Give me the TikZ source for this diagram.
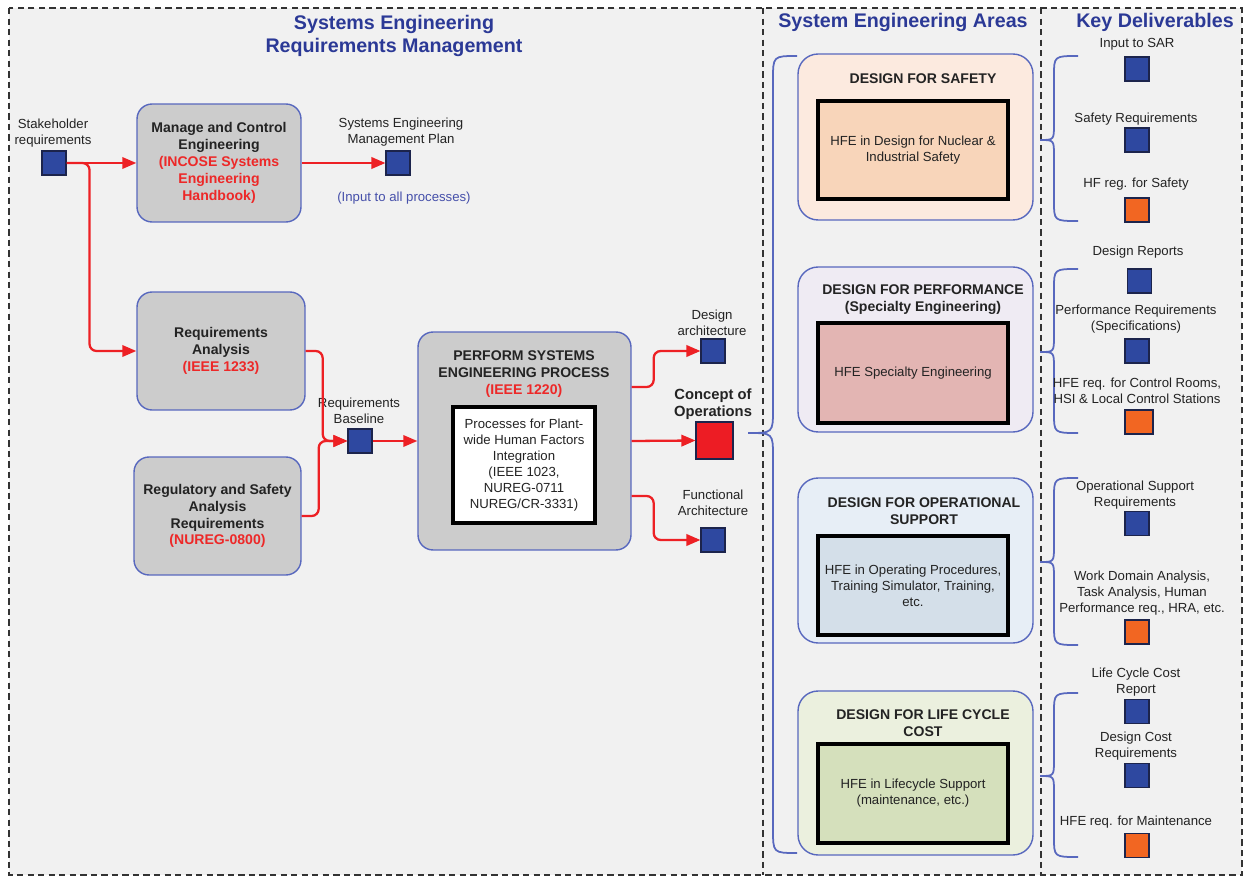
\documentclass[tikz,border=0pt]{standalone}
\usepackage{fontspec}
\setmainfont{Liberation Sans}
\usetikzlibrary{arrows.meta,calc}

\definecolor{panel}{RGB}{241,241,241}
\definecolor{titleblue}{RGB}{43,57,150}
\definecolor{boxblue}{RGB}{88,104,190}
\definecolor{boxgray}{RGB}{204,204,204}
\definecolor{redtxt}{RGB}{237,40,40}
\definecolor{linered}{RGB}{237,32,36}
\definecolor{sqblue}{RGB}{46,72,160}
\definecolor{sqedge}{RGB}{28,36,76}
\definecolor{sqorange}{RGB}{242,102,34}
\definecolor{sqred}{RGB}{237,28,36}
\definecolor{txt}{RGB}{35,35,35}
\definecolor{noteblue}{RGB}{70,80,170}
\definecolor{safetyfill}{RGB}{252,234,223}
\definecolor{safetyin}{RGB}{248,213,186}
\definecolor{perffill}{RGB}{239,235,243}
\definecolor{perfin}{RGB}{227,181,179}
\definecolor{opfill}{RGB}{231,238,246}
\definecolor{opin}{RGB}{212,223,233}
\definecolor{lifefill}{RGB}{235,240,222}
\definecolor{lifein}{RGB}{213,224,188}

\begin{document}
\begin{tikzpicture}[x=0.02cm,y=-0.02cm,
  frame/.style={draw=black!80, line width=0.6pt, dash pattern=on 3.6pt off 2.4pt},
  htitle/.style={font=\bfseries\fontsize{11.2}{13.6}\selectfont, text=titleblue, align=center, inner sep=0},
  lbl/.style={font=\fontsize{7.5}{9.1}\selectfont, text=txt, align=center, inner sep=0},
  blbl/.style={font=\bfseries\fontsize{8.4}{9.6}\selectfont, text=txt, align=center, inner sep=0},
  sq/.style={draw=sqedge, fill=sqblue, minimum size=0.48cm, inner sep=0, line width=0.6pt},
  osq/.style={sq, fill=sqorange},
  proc/.style={draw=boxblue, fill=boxgray, rounded corners=0.3cm, line width=0.8pt,
    align=center, text=txt, font=\bfseries\fontsize{8}{9.6}\selectfont, inner sep=0},
  area/.style={draw=boxblue, rounded corners=0.4cm, line width=0.8pt, minimum width=4.7cm, inner sep=0},
  atitle/.style={font=\bfseries\fontsize{8}{9.6}\selectfont, text=txt, align=center, inner sep=0},
  inbox/.style={draw=black, line width=1.8pt, align=center, text=txt,
    font=\fontsize{7.5}{9.1}\selectfont, minimum width=3.8cm, inner sep=0},
  conn/.style={draw=linered, line width=1.3pt, rounded corners=4pt,
    -{Triangle[length=8pt,width=6.5pt]}},
  brace/.style={draw=boxblue, line width=1pt}]

\useasboundingbox (0,0) rectangle (1244,878);
\fill[white] (0,0) rectangle (1244,878);
\fill[panel] (9,8) rectangle (1242,875);
\draw[frame] (9,8) rectangle (1242,875);
\draw[frame] (763,8) -- (763,875);
\draw[frame] (1041,8) -- (1041,875);

% column headings
\node[htitle] (t1) at (394,36) {Systems Engineering\\Requirements Management};
\node[htitle] (t2) at (903,22) {System Engineering Areas};
\node[htitle] (t3) at (1155,22) {Key Deliverables};

% requirements management
\node[lbl] (shl) at (53,133) {Stakeholder\\requirements};
\node[sq] (sh) at (54,163) {};

\node[proc, minimum width=3.28cm, minimum height=2.36cm] (mc) at (219,163)
  {Manage and Control\\Engineering\\\textcolor{redtxt}{(INCOSE Systems}\\\textcolor{redtxt}{Engineering}\\\textcolor{redtxt}{Handbook)}};

\node[lbl] (sempl) at (401,132) {Systems Engineering\\Management Plan};
\node[sq] (semp) at (398,163) {};
\node[lbl, text=noteblue] (note) at (404,198) {(Input to all processes)};

\node[proc, minimum width=3.36cm, minimum height=2.36cm] (ra) at (221,351)
  {Requirements\\Analysis\\\textcolor{redtxt}{(IEEE 1233)}};

\node[proc, minimum width=3.34cm, minimum height=2.36cm] (rs) at (217.5,516)
  {Regulatory and Safety\\Analysis\\Requirements\\\textcolor{redtxt}{(NUREG-0800)}};

\node[lbl] (rbl) at (359,411) {Requirements\\Baseline};
\node[sq] (rb) at (360,441) {};

\node[proc, minimum width=4.26cm, minimum height=4.36cm] (pp) at (524.5,441) {};
\node[atitle] (ppt) at (524,374) {PERFORM SYSTEMS\\ENGINEERING PROCESS\\\textcolor{redtxt}{(IEEE 1220)}};
\node[inbox, fill=white, minimum width=2.84cm, minimum height=2.32cm] (hf) at (524,465)
  {Processes for Plant-\\wide Human Factors\\Integration\\(IEEE 1023,\\NUREG-0711\\NUREG/CR-3331)};

\node[lbl] (dal) at (712,323) {Design\\architecture};
\node[sq] (da) at (713,351) {};
\node[blbl] (col) at (713,404.5) {Concept of\\Operations};
\node[sq, fill=sqred, minimum size=0.74cm] (co) at (714.5,440.5) {};
\node[lbl] (fal) at (713,503) {Functional\\Architecture};
\node[sq] (fa) at (713,540) {};

% flows
\draw[conn] (sh.east) -- (mc.west);
\draw[conn] (sh.east) -- ++(23,0) |- (ra.west);
\draw[conn] (mc.east) -- (semp.west);
\draw[conn] (ra.east) -- ++(17,0) |- (rb.west);
\draw[conn] (rs.east) -- ++(17,0) |- (rb.west);
\draw[conn] (rb.east) -- (pp.west);
\draw[conn] ($(pp.east)+(0,-54)$) -- ++(22,0) |- (da.west);
\draw[conn] (pp.east) -- (co.west);
\draw[conn] ($(pp.east)+(0,55)$) -- ++(22,0) |- (fa.west);

% system engineering areas
\draw[brace] (797,56) .. controls (773,56) .. (773,80) -- (773,409)
  .. controls (773,433) .. (748,433) .. controls (773,433) .. (773,457)
  -- (773,829) .. controls (773,853) .. (797,853);

\node[area, fill=safetyfill, minimum height=3.32cm] (a1) at (915.5,137) {};
\node[atitle] (a1t) at (923,79) {DESIGN FOR SAFETY};
\node[inbox, fill=safetyin, minimum height=1.96cm] (a1i) at (913,150)
  {HFE in Design for Nuclear \&\\Industrial Safety};

\node[area, fill=perffill, minimum height=3.3cm] (a2) at (915.5,349.5) {};
\node[atitle] (a2t) at (923,299.5) {DESIGN FOR PERFORMANCE\\(Specialty Engineering)};
\node[inbox, fill=perfin, minimum height=2cm] (a2i) at (913,373) {HFE Specialty Engineering};

\node[area, fill=opfill, minimum height=3.3cm] (a3) at (915.5,560.5) {};
\node[atitle] (a3t) at (924,511.5) {DESIGN FOR OPERATIONAL\\SUPPORT};
\node[inbox, fill=opin, minimum height=1.98cm] (a3i) at (913,585.5)
  {HFE in Operating Procedures,\\Training Simulator, Training,\\etc.};

\node[area, fill=lifefill, minimum height=3.28cm] (a4) at (915.5,773) {};
\node[atitle] (a4t) at (923,723) {DESIGN FOR LIFE CYCLE\\COST};
\node[inbox, fill=lifein, minimum height=1.98cm] (a4i) at (913,793.5)
  {HFE in Lifecycle Support\\(maintenance, etc.)};

% key deliverables
\draw[brace] (1078,56) .. controls (1054,56) .. (1054,76) -- (1054,124)
  .. controls (1054,140) .. (1040,140) .. controls (1054,140) .. (1054,156)
  -- (1054,201) .. controls (1054,221) .. (1078,221);
\draw[brace] (1078,269) .. controls (1054,269) .. (1054,289) -- (1054,336)
  .. controls (1054,352) .. (1040,352) .. controls (1054,352) .. (1054,368)
  -- (1054,413) .. controls (1054,433) .. (1078,433);
\draw[brace] (1078,478) .. controls (1054,478) .. (1054,498) -- (1054,546)
  .. controls (1054,562) .. (1040,562) .. controls (1054,562) .. (1054,578)
  -- (1054,625) .. controls (1054,645) .. (1078,645);
\draw[brace] (1078,693) .. controls (1054,693) .. (1054,713) -- (1054,760)
  .. controls (1054,776) .. (1040,776) .. controls (1054,776) .. (1054,792)
  -- (1054,837) .. controls (1054,857) .. (1078,857);

\node[lbl] (k1l) at (1137,44) {Input to SAR};
\node[sq] (k1) at (1137,69) {};
\node[lbl] (k2l) at (1136,119) {Safety Requirements};
\node[sq] (k2) at (1137,140) {};
\node[lbl] (k3l) at (1136,184) {HF reg. for Safety};
\node[osq] (k3) at (1137,210) {};

\node[lbl] (k4l) at (1138,252) {Design Reports};
\node[sq] (k4) at (1139.5,281) {};
\node[lbl] (k5l) at (1136,319.5) {Performance Requirements\\(Specifications)};
\node[sq] (k5) at (1137,351) {};
\node[lbl] (k6l) at (1137,390.5) {HFE req. for Control Rooms,\\HSI \& Local Control Stations};
\node[osq, minimum width=0.56cm] (k6) at (1139,422) {};

\node[lbl] (k7l) at (1135,495) {Operational Support\\Requirements};
\node[sq] (k7) at (1137,523.5) {};
\node[lbl] (k8l) at (1142,593) {Work Domain Analysis,\\Task Analysis, Human\\Performance req., HRA, etc.};
\node[osq] (k8) at (1137,632) {};

\node[lbl] (k9l) at (1136,682) {Life Cycle Cost\\Report};
\node[sq] (k9) at (1137,711.5) {};
\node[lbl] (k10l) at (1136,746) {Design Cost\\Requirements};
\node[sq] (k10) at (1137,775.5) {};
\node[lbl] (k11l) at (1136,822) {HFE req. for Maintenance};
\node[osq] (k11) at (1137,845.5) {};
\end{tikzpicture}
\end{document}
